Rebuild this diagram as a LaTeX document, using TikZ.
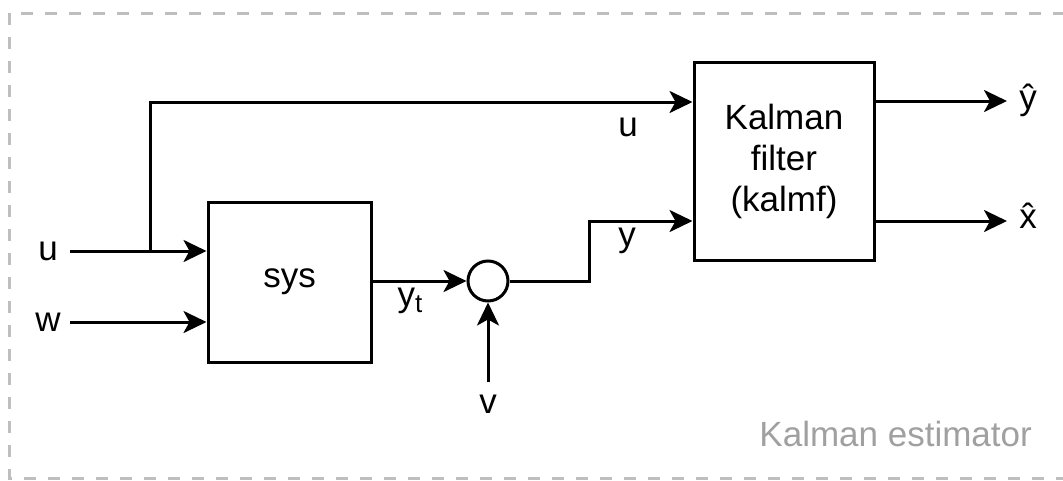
\documentclass[tikz,border=0pt]{standalone}
\usepackage{fontspec}
\setmainfont{Liberation Sans}
\usetikzlibrary{arrows.meta}
\definecolor{framegray}{RGB}{190,190,190}
\definecolor{labgray}{RGB}{160,160,160}
\tikzset{
  wire/.style={line width=3pt, draw=black},
  arr/.style={wire, -{Stealth[length=23pt,width=22pt,inset=6pt]}},
  blk/.style={draw=black, line width=3pt, fill=white, inner sep=0pt, align=center, font=\fontsize{35}{41}\selectfont},
  lab/.style={inner sep=0pt, font=\fontsize{35}{41}\selectfont},
  sumc/.style={circle, draw=black, line width=3pt, minimum size=40pt, inner sep=0pt},
}
\begin{document}
\begin{tikzpicture}[x=1pt,y=-1pt]
\useasboundingbox (0,0) rectangle (1063,480);
\draw[framegray, line width=3pt, dash pattern=on 12pt off 12pt] (9,13) rectangle (1080,478);
\node[labgray, inner sep=0pt, font=\fontsize{35}{41}\selectfont, anchor=base east] (est) at (1032,446) {Kalman estimator};

\node[blk, minimum width=163pt, minimum height=160pt] (sys) at (289.5,282) {sys};
\node[blk, minimum width=180pt, minimum height=198pt] (kf) at (784,161) {Kalman\\filter\\(kalmf)};
\node[sumc] (sum) at (488,281) {};

% inputs
\node[lab] (ul) at (48,251) {u};
\node[lab] (wl) at (48,322) {w};
\coordinate (uin) at (70,251);
\coordinate (win) at (70,322);
\coordinate (br) at (150,251);
\draw[arr] (uin) -- (sys.west |- uin);
\draw[arr] (win) -- (sys.west |- win);
\coordinate (ukf) at (692,102);
\draw[arr] (br) |- (kf.west |- ukf);
\node[lab] (u2) at (628,127) {u};

% sys -> sum
\draw[arr] (sys.east |- sum) -- (sum.west);
\node[lab] (yt) at (410,301) {y\raisebox{-0.3ex}{\fontsize{26}{26}\selectfont t}};

% v
\coordinate (vin) at (488,382);
\draw[arr] (vin) -- (sum.south);
\node[lab] (vl) at (488,404) {v};

% sum -> kf
\coordinate (yk) at (692,221);
\coordinate (bend) at (589,281);
\draw[arr] (sum.east) -- (bend) |- (kf.west |- yk);
\node[lab] (yl) at (627,241) {y};

% outputs
\coordinate (yo) at (1007,101);
\coordinate (xo) at (1007,221);
\draw[arr] (kf.east |- yo) -- (yo);
\draw[arr] (kf.east |- xo) -- (xo);
\node[lab] (yh) at (1028,100) {\^{y}};
\node[lab] (xh) at (1028,216) {\^{x}};
\end{tikzpicture}
\end{document}
